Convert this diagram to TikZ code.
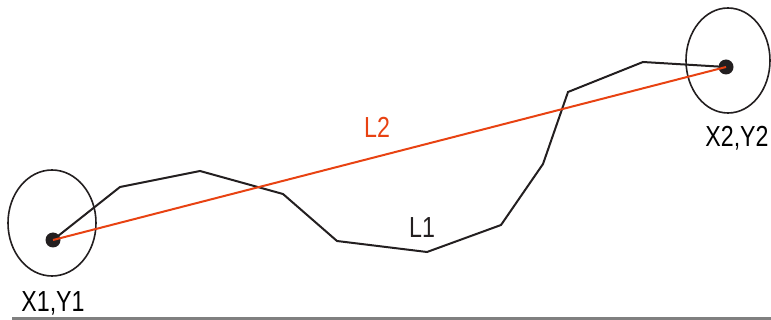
\documentclass[tikz,border=0pt]{standalone}
\usepackage{fontspec}
\newfontfamily\labelfont{Liberation Sans}[FakeStretch=0.8]
\usepackage{tikz}
\usetikzlibrary{positioning}

\definecolor{linkred}{RGB}{232,66,18}
\definecolor{inkblack}{RGB}{35,31,32}
\definecolor{basegray}{RGB}{128,128,128}

\begin{document}
\begin{tikzpicture}[
    x=1pt, y=-1pt,
    dot/.style={
        circle,
        fill=inkblack,
        inner sep=0pt,
        minimum size=15pt
    },
    zone/.style={
        draw=inkblack,
        line width=1.6pt
    },
    track/.style={
        draw=inkblack,
        line width=2pt,
        line join=miter
    },
    direct/.style={
        draw=linkred,
        line width=2pt
    },
    label/.style={
        anchor=base,
        inner sep=0pt,
        font=\labelfont\fontsize{29}{29}\selectfont
    }
]

\useasboundingbox (0,0) rectangle (771,320);

\draw[zone] (52,223) ellipse [x radius=44, y radius=53];
\draw[zone] (728,60.5) ellipse [x radius=42, y radius=52.5];

\node[dot] (p1) at (53,240) {};
\node[dot] (p2) at (726,67) {};

\draw[track] (p1.center) -- (120,187) -- (200,171) -- (283,194) -- (337,241)
    -- (427,252) -- (501,225) -- (543,164) -- (568,92) -- (643,62) -- (p2.center);

\draw[direct] (p1.center) -- (p2.center);

\node[label] (start) at (53,312) {X1,Y1};
\node[label] (end) at (737,147) {X2,Y2};
\node[label, text=linkred] (straight) at (377,138) {L2};
\node[label, text=inkblack] (curved) at (422,238) {L1};

\fill[basegray] (12,317) rectangle (771,320);

\end{tikzpicture}
\end{document}
